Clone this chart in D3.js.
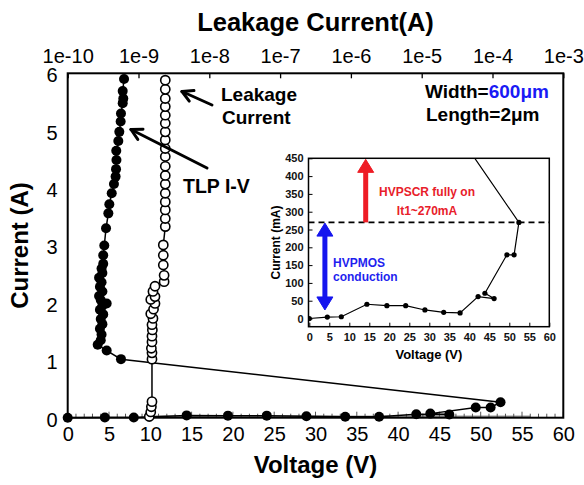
<!DOCTYPE html>
<html><head><meta charset="utf-8">
<script src="https://cdn.jsdelivr.net/npm/d3@7"></script>
<style>
html,body{margin:0;padding:0;background:#fff;}
svg{display:block;font-family:"Liberation Sans",Arial,sans-serif;}
</style></head>
<body><svg id="c" width="584" height="485"></svg>
<script>
// ---- data ----
// TLP I-V (filled circles): voltage (V), current (A), in measurement order
const tlpVoltage = [0, 4.5, 8, 14.4, 19.4, 24.1, 28.9, 33.6, 37.7, 42.2, 46.2, 43.9, 49.4, 51.2, 52.4,
  6.45, 4.72, 3.63, 4.0, 4.1, 3.9, 4.2, 4.0, 4.3, 3.9, 4.2, 4.72, 4.0, 3.8, 4.2, 3.9, 4.1, 3.8, 4.2, 4.1, 4.3, 4.3,
  4.43, 4.64, 4.92, 5.04, 5.33, 5.6, 5.8, 5.85, 5.9, 5.88, 6.13, 6.25, 6.41, 6.45, 6.66, 6.73, 6.66, 6.82];
const tlpCurrent = [0, 0.004, 0.005, 0.040, 0.036, 0.036, 0.024, 0.0175, 0.0157, 0.0615, 0.056, 0.071, 0.179, 0.179, 0.270,
  1.02, 1.17, 1.27, 1.35, 1.45, 1.55, 1.63, 1.72, 1.80, 1.88, 1.95, 1.99, 2.05, 2.12, 2.20, 2.28, 2.36, 2.44, 2.52, 2.60, 2.68, 2.83,
  3.00, 3.30, 3.56, 3.72, 3.91, 4.07, 4.20, 4.33, 4.49, 4.65, 4.82, 4.98, 5.16, 5.30, 5.48, 5.56, 5.69, 5.90];
// Leakage (open circles): current (A) vs leakage current (A)
const leakCurrent = [0.02, 0.10, 0.19, 0.28, 1.02, 1.13, 1.21, 1.32, 1.42, 1.53, 1.62, 1.73, 1.81, 1.89, 1.99, 2.06, 2.11, 2.20, 2.29,
  2.37, 2.48, 2.66, 2.83, 3.01, 3.33, 3.47, 3.62, 3.76, 3.91, 4.07, 4.22, 4.38, 4.55, 4.69, 4.84, 4.98, 5.13, 5.27, 5.42, 5.56, 5.72, 5.88];
const leakValue = [1.42e-9, 1.49e-9, 1.52e-9, 1.55e-9, 1.55e-9, 1.55e-9, 1.52e-9, 1.55e-9, 1.55e-9, 1.57e-9, 1.55e-9, 1.6e-9, 1.49e-9, 1.63e-9, 1.71e-9, 1.49e-9, 1.71e-9, 1.6e-9, 1.71e-9,
  2.3e-9, 2.3e-9, 2.24e-9, 2.24e-9, 2.24e-9, 2.39e-9, 2.39e-9, 2.39e-9, 2.39e-9, 2.39e-9, 2.39e-9, 2.39e-9, 2.39e-9, 2.39e-9, 2.39e-9, 2.39e-9, 2.39e-9, 2.39e-9, 2.39e-9, 2.39e-9, 2.39e-9, 2.39e-9, 2.39e-9];
const voltTicks = [0, 5, 10, 15, 20, 25, 30, 35, 40, 45, 50, 55, 60];
const currTicks = [0, 1, 2, 3, 4, 5, 6];
const leakTicks = [1e-10, 1e-9, 1e-8, 1e-7, 1e-6, 1e-5, 1e-4, 1e-3];
const leakTickLabels = ["1e-10", "1e-9", "1e-8", "1e-7", "1e-6", "1e-5", "1e-4", "1e-3"];
const insetVoltTicks = [0, 5, 10, 15, 20, 25, 30, 35, 40, 45, 50, 55, 60];
const insetCurrTicks = [0, 50, 100, 150, 200, 250, 300, 350, 400, 450];
const it1mA = 270;

// ---- main chart ----
const svg = d3.select("#c");
const L = 67.7, R = 563.3, T = 73.3, B = 417.7;
const x = d3.scaleLinear().domain([0, 60]).range([L, R]);
const xTop = d3.scaleLog().domain([1e-10, 1e-3]).range([L, R]);
const y = d3.scaleLinear().domain([0, 6]).range([B, T]);

const tlp = tlpVoltage.map((v, i) => ({v, i: tlpCurrent[i]}));
const leak = leakCurrent.map((c, i) => ({c, l: leakValue[i]}));

// faint baseline trace with small ticks
svg.append("line").attr("x1", x(10.4)).attr("x2", x(56)).attr("y1", y(0.018)).attr("y2", y(0.018))
  .attr("stroke", "#9a9a9a").attr("stroke-width", 2.2);
const minor = d3.range(0, 61, 1);
svg.append("g").selectAll("line").data(minor).join("line")
  .attr("x1", d => x(d)).attr("x2", d => x(d)).attr("y1", B).attr("y2", d => B - (d % 5 === 0 ? 6 : 4))
  .attr("stroke", "#555").attr("stroke-width", 1);

// axes
const axBottom = d3.axisBottom(x).tickValues(voltTicks).tickSize(0).tickPadding(9).tickFormat(d3.format("d"));
const gB = svg.append("g").attr("transform", `translate(0,${B})`).call(axBottom);
const axLeft = d3.axisLeft(y).tickValues(currTicks).tickSize(0).tickPadding(10).tickFormat(d3.format("d"));
const gL = svg.append("g").attr("transform", `translate(${L},0)`).call(axLeft);
const axTop = d3.axisTop(xTop).tickValues(leakTicks).tickSize(-5).tickPadding(10).tickFormat((d, i) => leakTickLabels[i]);
const gT = svg.append("g").attr("transform", `translate(0,${T})`).call(axTop);
[gB, gL, gT].forEach(g => {
  g.select(".domain").remove();
  g.selectAll("text").attr("font-size", 20).attr("fill", "#000").attr("font-family", "Liberation Sans, Arial, sans-serif");
  g.selectAll("line").attr("stroke", "#000").attr("stroke-width", 1.3);
});
gB.selectAll("text").attr("dy", "0.71em");
gL.selectAll("text").attr("dy", "0.42em");
svg.append("rect").attr("x", L).attr("y", T).attr("width", R - L).attr("height", B - T)
  .attr("fill", "none").attr("stroke", "#000").attr("stroke-width", 2);

// leakage series
svg.append("path").datum(leak).attr("fill", "none").attr("stroke", "#000").attr("stroke-width", 1.5)
  .attr("d", d3.line().x(d => xTop(d.l)).y(d => y(d.c)));
// TLP series line
svg.append("path").datum(tlp).attr("fill", "none").attr("stroke", "#000").attr("stroke-width", 1.5)
  .attr("d", d3.line().x(d => x(d.v)).y(d => y(d.i)));
svg.append("g").selectAll("circle").data(leak).join("circle")
  .attr("cx", d => xTop(d.l)).attr("cy", d => y(d.c)).attr("r", 4.6)
  .attr("fill", "#fff").attr("stroke", "#000").attr("stroke-width", 1.6);
svg.append("g").selectAll("circle").data(tlp).join("circle")
  .attr("cx", d => x(d.v)).attr("cy", d => y(d.i)).attr("r", 5).attr("fill", "#000");

// axis titles
svg.append("text").attr("x", (L + R) / 2).attr("y", 31).attr("text-anchor", "middle")
  .attr("font-size", 25.5).attr("font-weight", "bold").text("Leakage Current(A)");
svg.append("text").attr("x", (L + R) / 2).attr("y", 473).attr("text-anchor", "middle")
  .attr("font-size", 24).attr("font-weight", "bold").text("Voltage (V)");
svg.append("text").attr("transform", `translate(28,${(T + B) / 2}) rotate(-90)`).attr("text-anchor", "middle")
  .attr("font-size", 24).attr("font-weight", "bold").text("Current (A)");

// annotations
function arrow(g, x1, y1, x2, y2, w, head) {
  g.append("line").attr("x1", x1).attr("y1", y1).attr("x2", x2).attr("y2", y2)
    .attr("stroke", "#000").attr("stroke-width", w).attr("stroke-linecap", "round");
  const a = Math.atan2(y1 - y2, x1 - x2);
  [0.5, -0.5].forEach(da => {
    g.append("line").attr("x1", x2).attr("y1", y2)
      .attr("x2", x2 + head * Math.cos(a + da)).attr("y2", y2 + head * Math.sin(a + da))
      .attr("stroke", "#000").attr("stroke-width", w).attr("stroke-linecap", "round");
  });
}
const ann = svg.append("g");
arrow(ann, 212, 105, 182, 91.5, 3, 12);
arrow(ann, 207, 168, 131, 129.5, 3, 12);
ann.append("text").attr("x", 221).attr("y", 101).attr("font-size", 19).attr("font-weight", "bold").text("Leakage");
ann.append("text").attr("x", 222).attr("y", 124).attr("font-size", 19).attr("font-weight", "bold").text("Current");
ann.append("text").attr("x", 183).attr("y", 193).attr("font-size", 19.5).attr("font-weight", "bold").text("TLP I-V");
const wt = ann.append("text").attr("x", 425).attr("y", 98).attr("font-size", 19).attr("font-weight", "bold");
wt.append("tspan").text("Width=");
wt.append("tspan").attr("fill", "#1a1af5").text("600μm");
ann.append("text").attr("x", 426).attr("y", 121).attr("font-size", 19).attr("font-weight", "bold").text("Length=2μm");

// ---- inset ----
const iL = 308.5, iR = 549.3, iT = 158.3, iB = 326.7;
const ix = d3.scaleLinear().domain([0, 60]).range([309.3, 549.3]);
const iy = d3.scaleLinear().domain([-23, 450]).range([iB, iT]);
const inset = svg.append("g");
inset.append("rect").attr("x", iL).attr("y", iT).attr("width", iR - iL).attr("height", iB - iT).attr("fill", "#fff");
svg.append("clipPath").attr("id", "ic").append("rect").attr("x", iL).attr("y", iT).attr("width", iR - iL).attr("height", iB - iT);
const gIB = inset.append("g").attr("transform", `translate(0,${iB})`)
  .call(d3.axisBottom(ix).tickValues(insetVoltTicks).tickSize(-4).tickPadding(7));
const gIL = inset.append("g").attr("transform", `translate(${iL},0)`)
  .call(d3.axisLeft(iy).tickValues(insetCurrTicks).tickSize(-4).tickPadding(5));
[gIB, gIL].forEach(g => {
  g.select(".domain").remove();
  g.selectAll("text").attr("font-size", 11).attr("font-weight", "bold").attr("fill", "#111")
    .attr("font-family", "Liberation Sans, Arial, sans-serif");
  g.selectAll("line").attr("stroke", "#000");
});
const ig = inset.append("g").attr("clip-path", "url(#ic)");
ig.append("path").datum(tlp).attr("fill", "none").attr("stroke", "#000").attr("stroke-width", 1.2)
  .attr("d", d3.line().x(d => ix(d.v)).y(d => iy(d.i * 1000)));
ig.selectAll("circle").data(tlp.slice(0, 15)).join("circle")
  .attr("cx", d => ix(d.v)).attr("cy", d => iy(d.i * 1000)).attr("r", 2.6).attr("fill", "#000");
inset.append("line").attr("x1", iL).attr("x2", iR).attr("y1", iy(it1mA)).attr("y2", iy(it1mA))
  .attr("stroke", "#000").attr("stroke-width", 1.8).attr("stroke-dasharray", "6,4");
inset.append("rect").attr("x", iL).attr("y", iT).attr("width", iR - iL).attr("height", iB - iT)
  .attr("fill", "none").attr("stroke", "#000").attr("stroke-width", 1.5);

function blockArrow(g, cx, yFrom, yTo, color, both) {
  const sw = 5, hw = 8, hl = 13;
  const dir = yTo < yFrom ? -1 : 1;
  g.append("line").attr("x1", cx).attr("x2", cx)
    .attr("y1", both ? yFrom + dir * (hl - 2) : yFrom).attr("y2", yTo - dir * (hl - 2))
    .attr("stroke", color).attr("stroke-width", sw);
  const tip = (yt, d) => g.append("path")
    .attr("d", `M${cx},${yt} L${cx - hw},${yt - d * hl} L${cx + hw},${yt - d * hl} Z`)
    .attr("fill", color).attr("stroke", color).attr("stroke-width", 1).attr("stroke-linejoin", "round");
  tip(yTo, dir);
  if (both) tip(yFrom, -dir);
}
blockArrow(inset, ix(14.1), iy(it1mA), iy(447), "#ee1c25", false);
blockArrow(inset, ix(3.9), iy(24), iy(268), "#1515ee", true);
inset.append("text").attr("x", 427).attr("y", 196).attr("text-anchor", "middle").attr("font-size", 12)
  .attr("font-weight", "bold").attr("fill", "#e8202a").text("HVPSCR fully on");
inset.append("text").attr("x", 427).attr("y", 215).attr("text-anchor", "middle").attr("font-size", 12)
  .attr("font-weight", "bold").attr("fill", "#e8202a").text("It1~270mA");
inset.append("text").attr("x", 333).attr("y", 266.5).attr("font-size", 12)
  .attr("font-weight", "bold").attr("fill", "#1f1fef").text("HVPMOS");
inset.append("text").attr("x", 333).attr("y", 280.5).attr("font-size", 12)
  .attr("font-weight", "bold").attr("fill", "#1f1fef").text("conduction");
inset.append("text").attr("x", (iL + iR) / 2).attr("y", 359).attr("text-anchor", "middle").attr("font-size", 13)
  .attr("font-weight", "bold").text("Voltage (V)");
inset.append("text").attr("transform", `translate(280,${(iT + iB) / 2}) rotate(-90)`).attr("text-anchor", "middle")
  .attr("font-size", 12).attr("font-weight", "bold").text("Current (mA)");
</script></body></html>
